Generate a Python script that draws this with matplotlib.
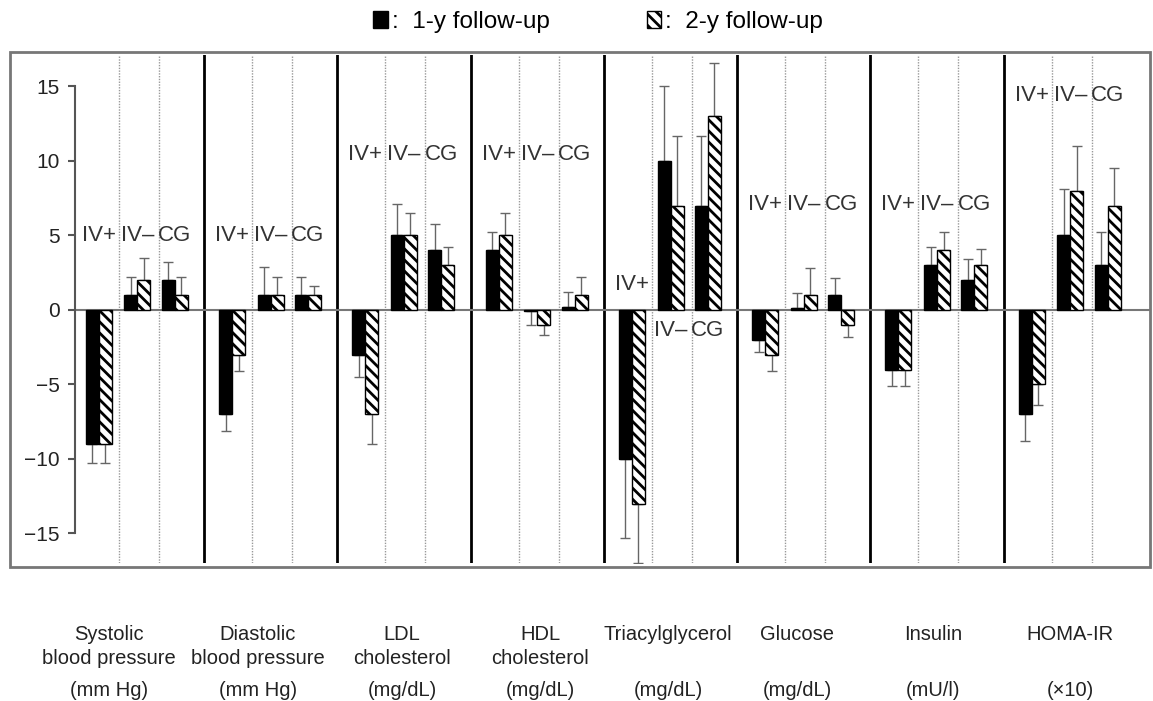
import numpy as np
import matplotlib.pyplot as plt
from matplotlib.patches import Rectangle

# Dados (variação em relação ao início)
grupos = ['Systolic\nblood pressure', 'Diastolic\nblood pressure', 'LDL\ncholesterol',
          'HDL\ncholesterol', 'Triacylglycerol', 'Glucose', 'Insulin', 'HOMA-IR']
unidades = ['(mm Hg)', '(mm Hg)', '(mg/dL)', '(mg/dL)', '(mg/dL)', '(mg/dL)', '(mU/l)', '(×10)']
subgrupos = ['IV+', 'IV–', 'CG']

ano1 = [[-9, 1, 2], [-7, 1, 1], [-3, 5, 4], [4, -0.1, 0.2],
        [-10, 10, 7], [-2, 0.15, 1], [-4, 3, 2], [-7, 5, 3]]
ano2 = [[-9, 2, 1], [-3, 1, 1], [-7, 5, 3], [5, -1, 1],
        [-13, 7, 13], [-3, 1, -1], [-4, 4, 3], [-5, 8, 7]]
erro1 = [[1.3, 1.2, 1.2], [1.1, 1.9, 1.2], [1.5, 2.1, 1.8], [1.2, 0.9, 1.0],
         [5.3, 5.0, 4.7], [0.8, 1.0, 1.15], [1.1, 1.2, 1.4], [1.8, 3.1, 2.2]]
erro2 = [[1.3, 1.5, 1.2], [1.1, 1.2, 0.6], [2.0, 1.5, 1.2], [1.5, 0.7, 1.2],
         [4.0, 4.7, 3.6], [1.1, 1.8, 0.8], [1.1, 1.2, 1.1], [1.4, 3.0, 2.5]]

# Layout
centros = [0.21, 0.50, 0.78]
larg = 0.0975
altura_rotulos = [[5, 5, 5], [5, 5, 5], [10.4, 10.4, 10.4], [10.4, 10.4, 10.4],
                  [1.7, -1.4, -1.4], [7.1, 7.1, 7.1], [7.1, 7.1, 7.1], [14.4, 14.4, 14.4]]
pos_nomes = [109, 258, 402, 540, 668, 797, 933, 1070]

plt.rcParams['font.family'] = ['Liberation Sans', 'DejaVu Sans']
plt.rcParams['hatch.linewidth'] = 2.0

W, H = 1153, 701
fig = plt.figure(figsize=(W / 100, H / 100), dpi=100)
ax = fig.add_axes([75 / W, 138 / H, 1075 / W, 508 / H])

# moldura externa
fig.patches.append(Rectangle((10 / W, 134 / H), 1140 / W, 515 / H, transform=fig.transFigure,
                             fill=False, edgecolor='#777777', lw=2))

x = np.array([i + c for i in range(len(grupos)) for c in centros])
v1 = np.array(ano1).ravel()
v2 = np.array(ano2).ravel()
e1 = np.array(erro1).ravel()
e2 = np.array(erro2).ravel()

# linhas de separação
for i in range(1, len(grupos)):
    ax.axvline(i, color='black', lw=2, zorder=1)
for i in range(len(grupos)):
    for f in (0.36, 0.66):
        ax.axvline(i + f, color='#999999', lw=1, ls=(0, (1, 1)), zorder=1)

b1 = ax.bar(x - larg / 2, v1, larg, color='black', edgecolor='black', lw=1, zorder=3)
b2 = ax.bar(x + larg / 2, v2, larg, color='white', edgecolor='black', hatch='\\\\\\', lw=1, zorder=3)

# barras de erro só para o lado de fora
for xs, v, e in ((x - larg / 2, v1, e1), (x + larg / 2, v2, e2)):
    baixo = np.where(v < 0, e, 0)
    cima = np.where(v >= 0, e, 0)
    ax.errorbar(xs, v, yerr=[baixo, cima], fmt='none', ecolor='#666666',
                elinewidth=1, capsize=3.5, capthick=1, zorder=2)

ax.axhline(0, color='#777777', lw=1.5, zorder=2)

for i in range(len(grupos)):
    for j in range(3):
        ax.text(i + centros[j], altura_rotulos[i][j], subgrupos[j], ha='center', va='center',
                fontsize=16, color='#333333')

ax.set_xlim(0.032, 8.097)
ax.set_ylim(-16.98, 17.11)
ax.set_xticks([])
ax.set_yticks(range(-15, 16, 5))
ax.tick_params(axis='y', length=5, width=1.5, color='#555555', labelsize=15, pad=6,
               labelcolor='#222222')
for s in ('top', 'right', 'bottom'):
    ax.spines[s].set_visible(False)
ax.spines['left'].set_bounds(-15, 15)
ax.spines['left'].set_color('#555555')
ax.spines['left'].set_linewidth(1.5)
ax.patch.set_visible(False)

fig.legend(handles=[b1, b2], labels=[':  1-y follow-up', ':  2-y follow-up'],
           loc='center', bbox_to_anchor=(598 / W, 1 - 22 / H), ncol=2, frameon=False,
           fontsize=17.5, handlelength=0.6, handleheight=0.7, handletextpad=0.15,
           columnspacing=4.0)

for nome, unid, px in zip(grupos, unidades, pos_nomes):
    fig.text(px / W, 1 - 625 / H, nome, ha='center', va='top', fontsize=14.5,
             linespacing=1.3, color='#222222')
    fig.text(px / W, 1 - 691 / H, unid, ha='center', va='center', fontsize=14.5,
             color='#222222')

fig.savefig('out.png', dpi=100)
